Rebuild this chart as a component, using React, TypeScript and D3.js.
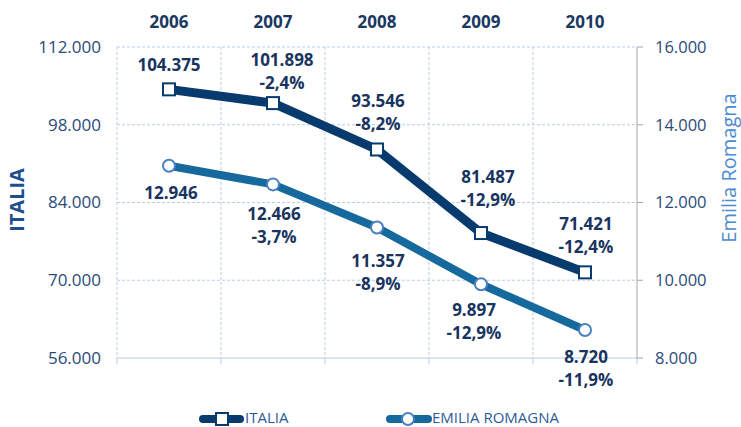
import React from "react";
import * as d3 from "d3";

const years = ["2006", "2007", "2008", "2009", "2010"];
// plotted positions (2009 is drawn lower than its label)
const italia = [104375, 101898, 93546, 78500, 71421];
const italiaLabels = ["104.375", "101.898", "93.546", "81.487", "71.421"];
const italiaPct = ["", "-2,4%", "-8,2%", "-12,9%", "-12,4%"];
const emilia = [12946, 12466, 11357, 9897, 8720];
const emiliaLabels = ["12.946", "12.466", "11.357", "9.897", "8.720"];
const emiliaPct = ["", "-3,7%", "-8,9%", "-12,9%", "-11,9%"];
const leftTicks = [56000, 70000, 84000, 98000, 112000];
const rightTicks = [8000, 10000, 12000, 14000, 16000];

// label layout offsets (dx, dy of first line baseline) relative to point
const italiaOff: [number, number][] = [[0, -18], [9, -37], [1, -42], [7, -50], [1, -42]];
const emiliaOff: [number, number][] = [[2, 33], [1, 36], [1, 40], [-7, 32], [1, 33]];

const W = 741, H = 427;
const M = { left: 117, right: 637, top: 47, bottom: 358 };
const NAVY = "#073a6d";
const BLUE = "#16699c";
const FONT = "'Open Sans', 'DejaVu Sans', sans-serif";
const fmt = (v: number) => d3.format(",")(v).replace(/,/g, ".");

export default function App() {
  const x = d3.scaleBand<string>().domain(years).range([M.left, M.right]);
  const xc = (y: string) => (x(y) as number) + x.bandwidth() / 2;
  const yL = d3.scaleLinear().domain([56000, 112000]).range([M.bottom, M.top]);
  const yR = d3.scaleLinear().domain([8000, 16000]).range([M.bottom, M.top]);
  const lineI = d3.line<number>().x((_, i) => xc(years[i])).y((d) => yL(d));
  const lineE = d3.line<number>().x((_, i) => xc(years[i])).y((d) => yR(d));
  const boundaries = years.map((y) => x(y) as number).concat([M.right]);

  return (
    <svg width={W} height={H} style={{ position: "absolute", left: 0, top: 0, background: "#fff" }} fontFamily={FONT}>
      {/* horizontal grid */}
      {leftTicks.map((t) => (
        <line key={"h" + t} x1={M.left} x2={M.right} y1={yL(t)} y2={yL(t)}
          stroke="#b9cde6" strokeWidth={1} strokeDasharray={t === 56000 ? undefined : "3,2"} />
      ))}
      {/* vertical grid */}
      {boundaries.slice(0, -1).map((b, i) => (
        <line key={"v" + i} x1={b} x2={b} y1={M.top} y2={M.bottom} stroke="#b9cde6" strokeWidth={1} strokeDasharray="3,2" />
      ))}
      {/* bottom tick marks */}
      {boundaries.map((b, i) => (
        <line key={"bt" + i} x1={b} x2={b} y1={M.bottom} y2={M.bottom + 6} stroke="#b9cde6" strokeWidth={1} />
      ))}
      {/* right axis */}
      <line x1={M.right} x2={M.right} y1={M.top} y2={M.bottom} stroke="#a6a6a6" strokeWidth={1} />
      {rightTicks.map((t) => (
        <g key={"r" + t}>
          <line x1={M.right} x2={M.right + 6} y1={yR(t)} y2={yR(t)} stroke="#a6a6a6" strokeWidth={1} />
          <text x={M.right + 18} y={yR(t)} dy="0.35em" fontSize={16.5} fill="#2a4a7a">{fmt(t)}</text>
        </g>
      ))}
      {/* left tick labels */}
      {leftTicks.map((t) => (
        <text key={"l" + t} x={M.left - 16} y={yL(t)} dy="0.35em" fontSize={17} textAnchor="end" fill="#2a4a7a">{fmt(t)}</text>
      ))}
      {/* category labels */}
      {years.map((y) => (
        <text key={"c" + y} x={xc(y)} y={28} fontSize={17} fontWeight="bold" textAnchor="middle" fill="#1b3862">{y}</text>
      ))}
      {/* axis titles */}
      <text transform={`translate(24,200) rotate(-90)`} fontSize={20} fontWeight="bold" textAnchor="middle" fill="#1e4f8c">ITALIA</text>
      <text transform={`translate(736,168) rotate(-90)`} fontSize={20} textAnchor="middle" fill="#4d8bcf">Emilia Romagna</text>

      {/* lines */}
      <path d={lineE(emilia) as string} fill="none" stroke={BLUE} strokeWidth={8} strokeLinejoin="round" strokeLinecap="round" />
      <path d={lineI(italia) as string} fill="none" stroke={NAVY} strokeWidth={9} strokeLinejoin="round" strokeLinecap="round" />
      {emilia.map((v, i) => (
        <circle key={"ec" + i} cx={xc(years[i])} cy={yR(v)} r={6} fill="#fff" stroke="#4a7fc1" strokeWidth={2} />
      ))}
      {italia.map((v, i) => (
        <rect key={"ir" + i} x={xc(years[i]) - 6} y={yL(v) - 6} width={12} height={12} fill="#fff" stroke={NAVY} strokeWidth={2} />
      ))}

      {/* data labels */}
      {italia.map((v, i) => (
        <text key={"il" + i} x={xc(years[i]) + italiaOff[i][0]} y={yL(v) + italiaOff[i][1]} fontSize={17} fontWeight="bold" textAnchor="middle" fill="#19345e">
          <tspan x={xc(years[i]) + italiaOff[i][0]}>{italiaLabels[i]}</tspan>
          {italiaPct[i] && <tspan x={xc(years[i]) + italiaOff[i][0]} dy={23}>{italiaPct[i]}</tspan>}
        </text>
      ))}
      {emilia.map((v, i) => (
        <text key={"el" + i} x={xc(years[i]) + emiliaOff[i][0]} y={yR(v) + emiliaOff[i][1]} fontSize={17} fontWeight="bold" textAnchor="middle" fill="#19345e">
          <tspan x={xc(years[i]) + emiliaOff[i][0]}>{emiliaLabels[i]}</tspan>
          {emiliaPct[i] && <tspan x={xc(years[i]) + emiliaOff[i][0]} dy={23}>{emiliaPct[i]}</tspan>}
        </text>
      ))}

      {/* legend */}
      <g>
        <line x1={203} x2={240} y1={419} y2={419} stroke={NAVY} strokeWidth={8} strokeLinecap="round" />
        <rect x={216} y={413} width={12} height={12} fill="#fff" stroke={NAVY} strokeWidth={2} />
        <text x={245} y={423} fontSize={15} fill="#2c5a98">ITALIA</text>
        <line x1={390} x2={428} y1={419} y2={419} stroke={BLUE} strokeWidth={8} strokeLinecap="round" />
        <circle cx={408} cy={419} r={6} fill="#fff" stroke="#4a7fc1" strokeWidth={2} />
        <text x={432} y={423} fontSize={15} fill="#2c5a98">EMILIA ROMAGNA</text>
      </g>
    </svg>
  );
}
